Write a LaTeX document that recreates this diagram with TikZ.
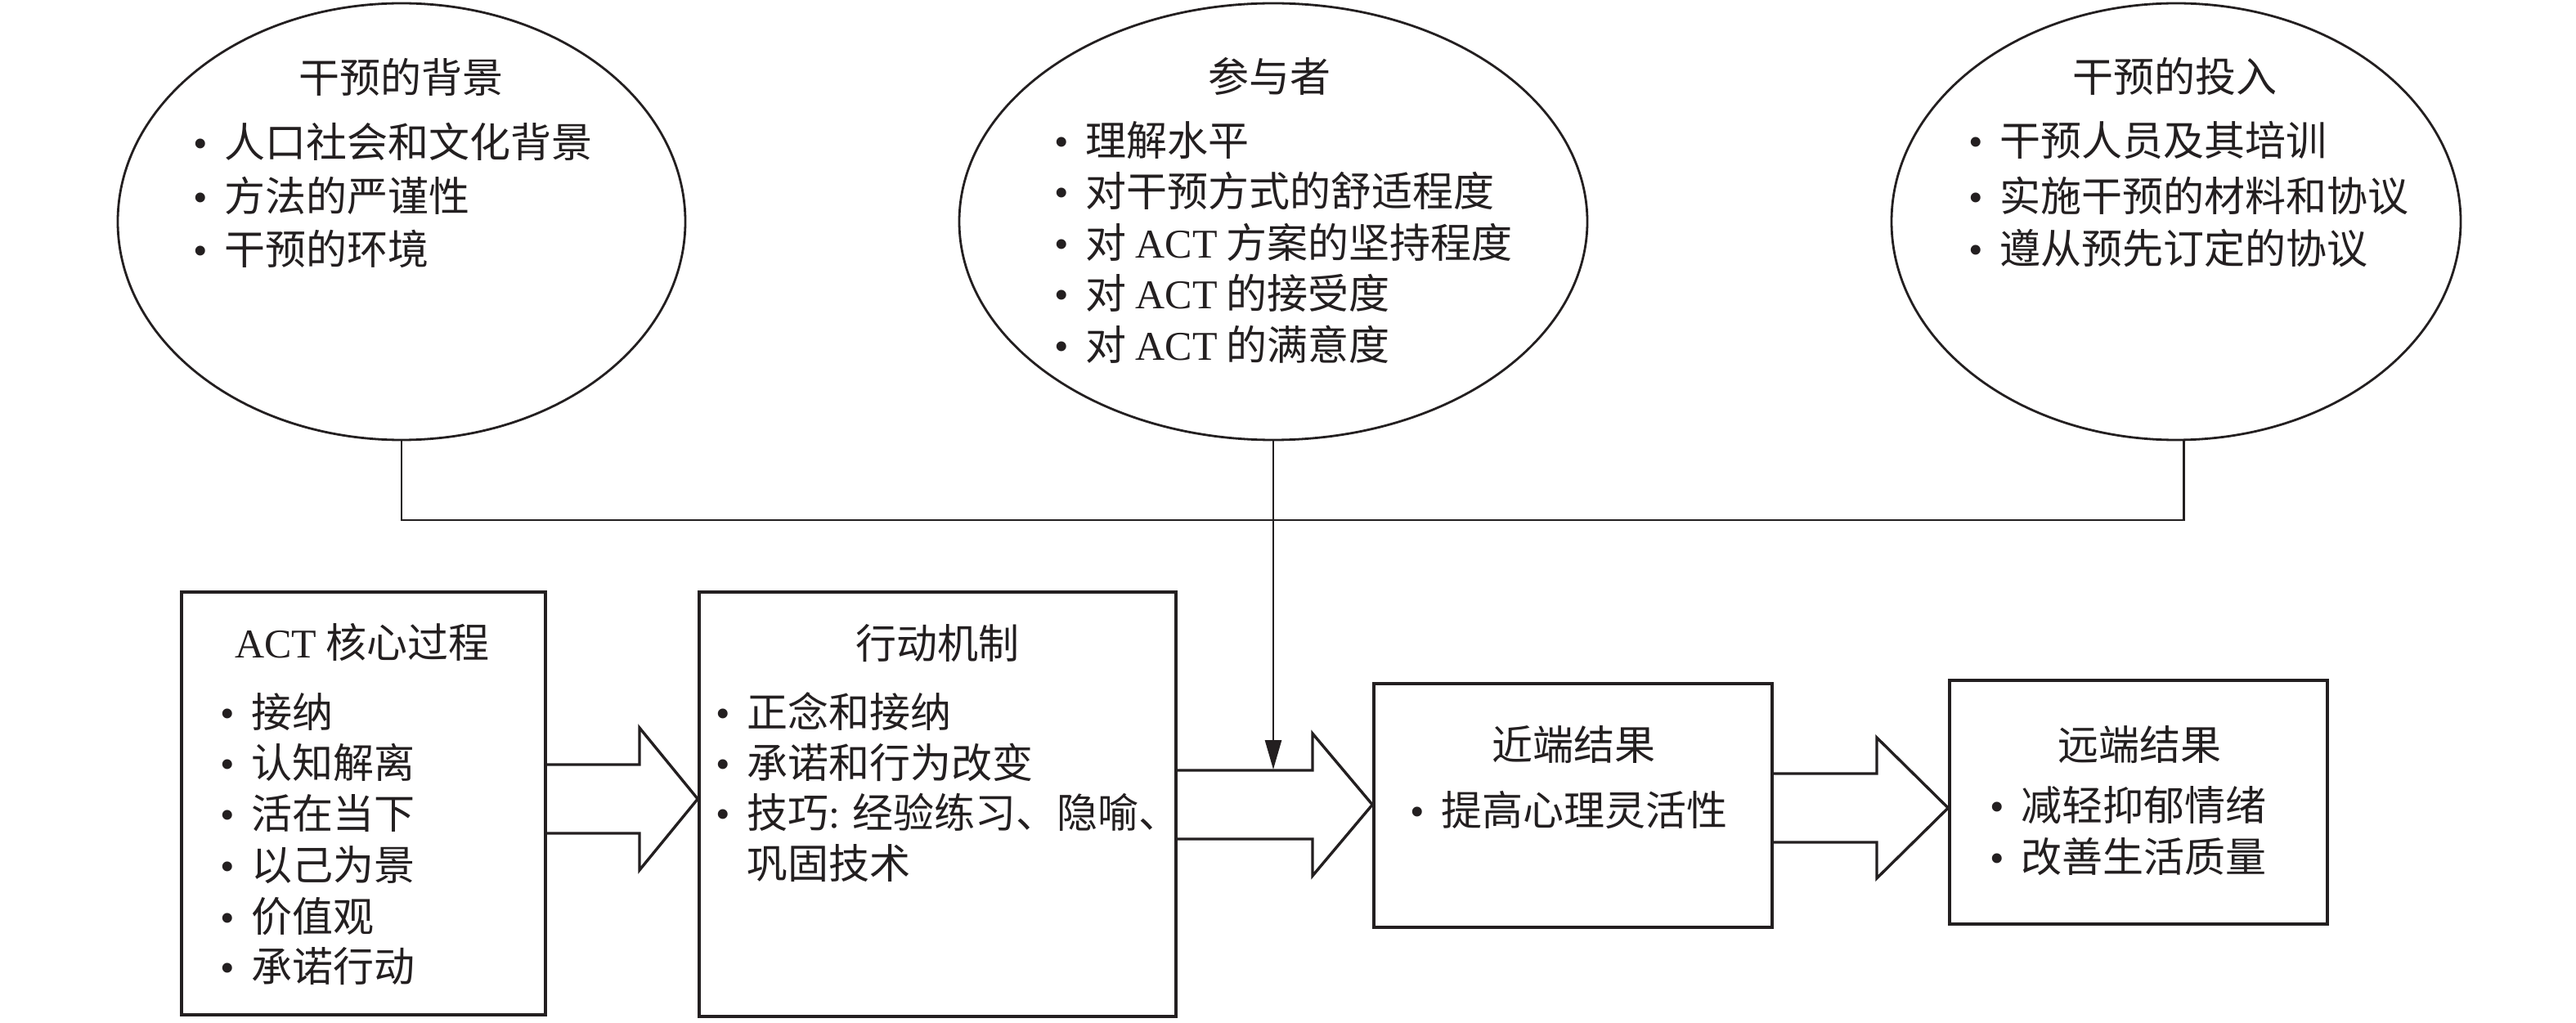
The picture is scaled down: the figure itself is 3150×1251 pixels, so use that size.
\documentclass[tikz,border=0pt]{standalone}
\usepackage{fontspec}
\setmainfont{Liberation Serif}
\newfontfamily\cjk{Noto Sans CJK SC}
\usetikzlibrary{shapes.geometric,arrows.meta}
\definecolor{ink}{RGB}{35,31,32}
\newcommand\latf{\rmfamily}
\newcommand\bul{\makebox[19pt][l]{\rmfamily\textbullet}}
\begin{document}
\begin{tikzpicture}[x=0.5pt,y=-0.5pt,
  oval/.style={draw=ink,line width=1.4pt,ellipse,inner sep=0pt,minimum height=267pt},
  boxnode/.style={draw=ink,line width=1.8pt,rectangle,inner sep=0pt},
  txt/.style={inner sep=0pt,font=\fontsize{25pt}{30pt}\cjk,text=ink},
  conn/.style={draw=ink,line width=1.4pt},
  barrow/.style={draw=ink,line width=1.7pt,line join=miter},
  downarrow/.style={-{Triangle[length=18pt,width=10pt]}}
]
\useasboundingbox (0,0) rectangle (3150,1251);

% ellipses
\node[oval,minimum width=347pt] (e1) at (491,271) {};
\node[oval,minimum width=384pt] (e2) at (1557,271) {};
\node[oval,minimum width=348pt] (e3) at (2661,271) {};

% boxes
\node[boxnode,minimum width=222.5pt,minimum height=258.5pt] (b1) at (444.5,982.5) {};
\node[boxnode,minimum width=291.5pt,minimum height=259.5pt] (b2) at (1146.5,983.5) {};
\node[boxnode,minimum width=243.5pt,minimum height=149pt] (b3) at (1923.5,985) {};
\node[boxnode,minimum width=231pt,minimum height=149pt] (b4) at (2615,981) {};

% connectors from ellipses
\coordinate (hy) at (0,636);
\draw[conn] (e1.south) -- (e1.south |- hy) -- (e3.-88.5 |- hy) -- (e3.-88.5);
\coordinate (a2top) at (0,941);
\draw[conn,downarrow] (e2.south) -- (e2.south |- a2top);

% block arrows
\draw[barrow] (b1.east |- 0,935) -- (782,935) -- (782,890) -- (b2.west |- 0,977)
  -- (782,1064) -- (782,1019) -- (b1.east |- 0,1019);
\draw[barrow] (b2.east |- 0,942) -- (1605,942) -- (1605,897) -- (b3.west |- 0,984)
  -- (1605,1071) -- (1605,1026) -- (b2.east |- 0,1026);
\draw[barrow] (b3.east |- 0,946) -- (2295,946) -- (2295,902) -- (b4.west |- 0,988)
  -- (2295,1074) -- (2295,1030) -- (b3.east |- 0,1030);

% ellipse 1 text
\node[txt,anchor=base] (e1t) at (490,114) {干预的背景};
\node[txt,anchor=base west] (e1a) at (236,193) {\bul 人口社会和文化背景};
\node[txt,anchor=base west] (e1b) at (236,259) {\bul 方法的严谨性};
\node[txt,anchor=base west] (e1c) at (236,324) {\bul 干预的环境};

% ellipse 2 text
\node[txt,anchor=base] (e2t) at (1552,113) {参与者};
\node[txt,anchor=base west] (e2a) at (1289,191) {\bul 理解水平};
\node[txt,anchor=base west] (e2b) at (1289,253) {\bul 对干预方式的舒适程度};
\node[txt,anchor=base west] (e2c) at (1289,316) {\bul 对 {\latf ACT} 方案的坚持程度};
\node[txt,anchor=base west] (e2d) at (1289,378) {\bul 对 {\latf ACT} 的接受度};
\node[txt,anchor=base west] (e2e) at (1289,441) {\bul 对 {\latf ACT} 的满意度};

% ellipse 3 text
\node[txt,anchor=base] (e3t) at (2659,113) {干预的投入};
\node[txt,anchor=base west] (e3a) at (2407,191) {\bul 干预人员及其培训};
\node[txt,anchor=base west] (e3b) at (2407,259) {\bul 实施干预的材料和协议};
\node[txt,anchor=base west] (e3c) at (2407,323) {\bul 遵从预先订定的协议};

% box 1 text
\node[txt,anchor=base] (b1t) at (443,804) {{\latf ACT} 核心过程};
\node[txt,anchor=base west] (b1a) at (269,889) {\bul 接纳};
\node[txt,anchor=base west] (b1b) at (269,951) {\bul 认知解离};
\node[txt,anchor=base west] (b1c) at (269,1013) {\bul 活在当下};
\node[txt,anchor=base west] (b1d) at (269,1076) {\bul 以己为景};
\node[txt,anchor=base west] (b1e) at (269,1139) {\bul 价值观};
\node[txt,anchor=base west] (b1f) at (269,1200) {\bul 承诺行动};

% box 2 text
\node[txt,anchor=base] (b2t) at (1146,805) {行动机制};
\node[txt,anchor=base west] (b2a) at (875,889) {\bul 正念和接纳};
\node[txt,anchor=base west] (b2b) at (875,951) {\bul 承诺和行为改变};
\node[txt,anchor=base west] (b2c) at (875,1012) {\bul 技巧{\latf :} 经验练习、隐喻、};
\node[txt,anchor=base west] (b2d) at (913,1074) {巩固技术};

% box 3 text
\node[txt,anchor=base] (b3t) at (1924,929) {近端结果};
\node[txt,anchor=base west] (b3a) at (1724,1009) {\bul 提高心理灵活性};

% box 4 text
\node[txt,anchor=base] (b4t) at (2616,929) {远端结果};
\node[txt,anchor=base west] (b4a) at (2433,1003) {\bul 减轻抑郁情绪};
\node[txt,anchor=base west] (b4b) at (2433,1066) {\bul 改善生活质量};
\end{tikzpicture}
\end{document}
